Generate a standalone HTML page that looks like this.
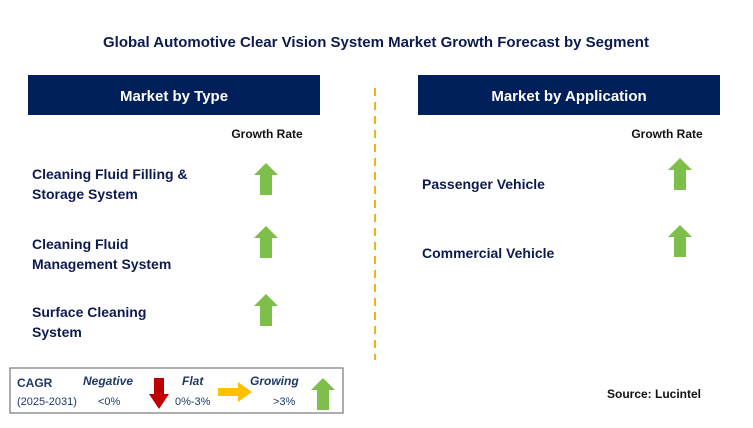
<!DOCTYPE html>
<html><head><meta charset="utf-8"><style>
body{margin:0;width:753px;height:428px;background:#fff;overflow:hidden;font-family:"Liberation Sans",Arial,sans-serif}
svg{display:block}
</style></head><body>
<svg width="753" height="428" xmlns="http://www.w3.org/2000/svg" font-family="Liberation Sans, Arial, sans-serif">
<defs>
<polygon id="up" points="12,0 24,12 18,12 18,32 6,32 6,12 0,12" fill="#7dbf4a"/>
</defs>
<text x="376" y="47" text-anchor="middle" font-size="15" font-weight="bold" fill="#0d1a4f">Global Automotive Clear Vision System Market Growth Forecast by Segment</text>
<rect x="28" y="75" width="292" height="40" fill="#001f5b"/>
<text x="174" y="101" text-anchor="middle" font-size="15" font-weight="bold" fill="#fff">Market by Type</text>
<rect x="418" y="75" width="302" height="40" fill="#001f5b"/>
<text x="569" y="101" text-anchor="middle" font-size="15" font-weight="bold" fill="#fff">Market by Application</text>
<line x1="375" y1="88" x2="375" y2="360" stroke="#f0b020" stroke-width="2" stroke-dasharray="8,6"/>
<text x="267" y="138" text-anchor="middle" font-size="12" font-weight="bold" fill="#111">Growth Rate</text>
<text x="667" y="138" text-anchor="middle" font-size="12" font-weight="bold" fill="#111">Growth Rate</text>
<g font-size="14" font-weight="bold" fill="#0d1a4f">
<text x="32" y="179">Cleaning Fluid Filling &amp;</text>
<text x="32" y="199">Storage System</text>
<text x="32" y="249">Cleaning Fluid</text>
<text x="32" y="269">Management System</text>
<text x="32" y="317">Surface Cleaning</text>
<text x="32" y="337">System</text>
<text x="422" y="189">Passenger Vehicle</text>
<text x="422" y="258">Commercial Vehicle</text>
</g>
<use href="#up" x="254" y="163"/>
<use href="#up" x="254" y="226"/>
<use href="#up" x="254" y="294"/>
<use href="#up" x="668" y="158"/>
<use href="#up" x="668" y="225"/>
<g>
<rect x="10" y="368" width="333" height="45" fill="#fff" stroke="#777" stroke-width="1.2"/>
<text x="17" y="387" font-size="12" font-weight="bold" fill="#1f3864">CAGR</text>
<text x="17" y="405" font-size="11" fill="#1f3864">(2025-2031)</text>
<text x="83" y="385" font-size="12" font-weight="bold" font-style="italic" fill="#1f3864">Negative</text>
<text x="98" y="405" font-size="11" fill="#1f3864">&lt;0%</text>
<polygon points="154,378 164,378 164,394 169,394 159,409 149,394 154,394" fill="#c00000"/>
<text x="182" y="385" font-size="12" font-weight="bold" font-style="italic" fill="#1f3864">Flat</text>
<text x="175" y="405" font-size="11" fill="#1f3864">0%-3%</text>
<polygon points="218,388 238,388 238,382 252,392 238,402 238,396 218,396" fill="#ffc000"/>
<text x="250" y="385" font-size="12" font-weight="bold" font-style="italic" fill="#1f3864">Growing</text>
<text x="273" y="405" font-size="11" fill="#1f3864">&gt;3%</text>
<use href="#up" x="311" y="378" transform="translate(0,0)"/>
</g>
<text x="607" y="398" font-size="12" font-weight="bold" fill="#111">Source: Lucintel</text>
</svg>
</body></html>
